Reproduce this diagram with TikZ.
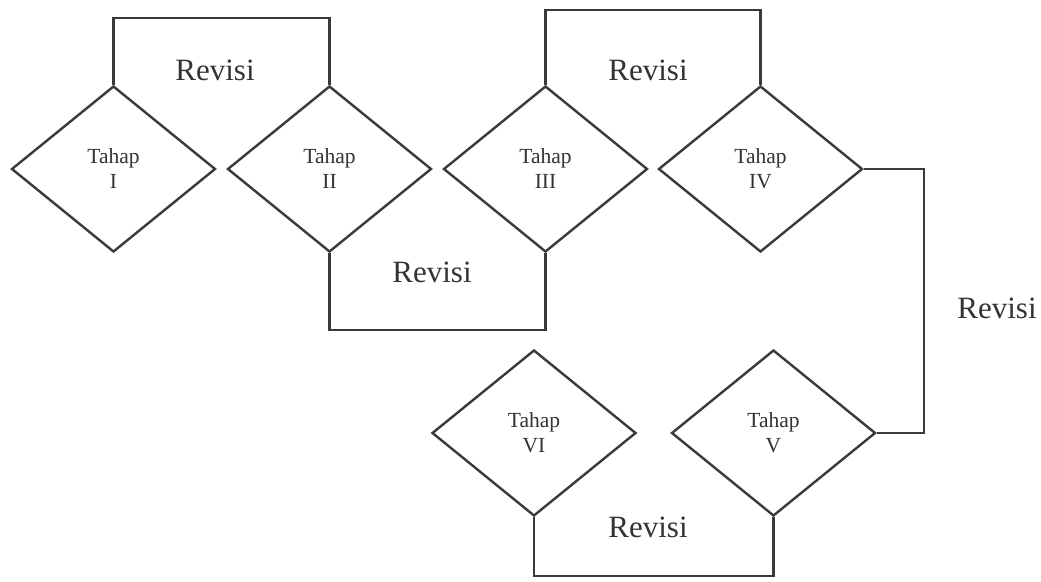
\documentclass[tikz,border=0pt]{standalone}
\usepackage{fontspec}
\setmainfont{Liberation Serif}
\usetikzlibrary{shapes.geometric}
\definecolor{ink}{HTML}{3A3A3A}
\definecolor{txt}{HTML}{333333}
\tikzset{
  stage/.style={shape=diamond, draw=ink, line width=2.4pt, inner sep=0pt,
    minimum width=204pt, minimum height=166pt, align=center, text=txt,
    font=\fontsize{21.5}{25}\selectfont},
  link/.style={draw=ink, line width=2.4pt},
  revlabel/.style={text=txt, font=\fontsize{31}{36}\selectfont, inner sep=0pt}
}
\begin{document}
\begin{tikzpicture}[x=1pt, y=-1pt]
\useasboundingbox[fill=white] (0,0) rectangle (1041,581);
\node[stage] (s1) at (113.5,169) {Tahap\\I};
\node[stage] (s2) at (329.5,169) {Tahap\\II};
\node[stage] (s3) at (545.5,169) {Tahap\\III};
\node[stage] (s4) at (760.5,169) {Tahap\\IV};
\node[stage] (s6) at (534,433) {Tahap\\VI};
\node[stage] (s5) at (773.5,433) {Tahap\\V};

\draw[link] (s1.north) -- ++(0,-67) -| (s2.north);
\draw[link] (s2.south) -- ++(0,77) -| (s3.south);
\draw[link] (s3.north) -- ++(0,-75) -| (s4.north);
\draw[link] (s4.east) -- ++(60,0) |- (s5.east);
\draw[link] (s5.south) -- ++(0,59) -| (s6.south);

\node[revlabel] (r1) at (215,70) {Revisi};
\node[revlabel] (r2) at (432,272) {Revisi};
\node[revlabel] (r3) at (648,70) {Revisi};
\node[revlabel] (r4) at (997,308) {Revisi};
\node[revlabel] (r5) at (648,527) {Revisi};
\end{tikzpicture}
\end{document}
